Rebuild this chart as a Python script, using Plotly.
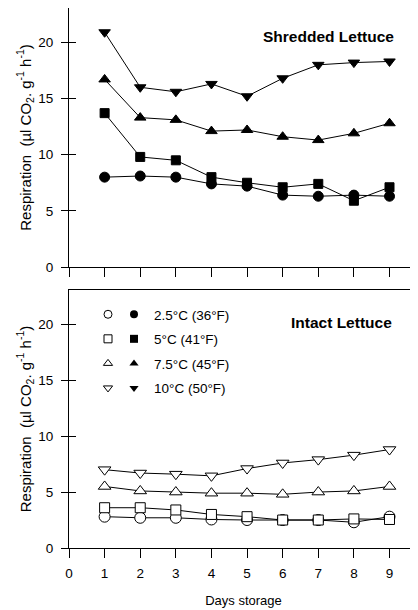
import plotly.graph_objects as go

days = [1, 2, 3, 4, 5, 6, 7, 8, 9]
temps = ["2.5°C (36°F)", "5°C (41°F)", "7.5°C (45°F)", "10°C (50°F)"]
symbols = ["circle", "square", "triangle-up", "triangle-down"]

shredded_25 = [8.0, 8.1, 8.0, 7.4, 7.2, 6.4, 6.3, 6.4, 6.3]
shredded_5 = [13.7, 9.8, 9.5, 8.0, 7.5, 7.1, 7.4, 5.9, 7.1]
shredded_75 = [16.7, 13.3, 13.1, 12.1, 12.2, 11.6, 11.3, 11.9, 12.8]
shredded_10 = [20.9, 16.0, 15.6, 16.3, 15.2, 16.8, 18.0, 18.2, 18.3]

intact_25 = [2.8, 2.7, 2.7, 2.55, 2.5, 2.5, 2.5, 2.3, 2.8]
intact_5 = [3.6, 3.6, 3.4, 3.0, 2.8, 2.5, 2.5, 2.6, 2.55]
intact_75 = [5.5, 5.1, 5.0, 4.9, 4.9, 4.8, 5.0, 5.1, 5.5]
intact_10 = [7.0, 6.7, 6.6, 6.45, 7.1, 7.6, 7.9, 8.3, 8.8]

shredded = [shredded_25, shredded_5, shredded_75, shredded_10]
intact = [intact_25, intact_5, intact_75, intact_10]

x_ticks = [0, 1, 2, 3, 4, 5, 6, 7, 8, 9]
y_ticks = [0, 5, 10, 15, 20]

FONT = "Arial, Liberation Sans, sans-serif"
OFF = 8  # page body margin
W, H = 418 - OFF, 610 - OFF
# plot area in page pixel coordinates
PL, PR, PT, PB = 69, 418, 8, 548
ML, MR, MT, MB = PL - OFF, 0, PT - OFF, 610 - PB
XR = [0, 9.8]
YR = [0, 23.06]

plot_w = PR - PL
plot_h = PB - PT


def px(xp):
    return (xp - PL) / plot_w


def py(yp):
    return 1 - (yp - PT) / plot_h


fig = go.Figure()

# data traces
for i in range(4):
    fig.add_trace(go.Scatter(x=days, y=shredded[i], mode="lines+markers",
                             line=dict(color="black", width=1),
                             marker=dict(symbol=symbols[i], size=10 if i != 1 else 9, color="black",
                                         line=dict(color="black", width=1)),
                             xaxis="x", yaxis="y", showlegend=False))
for i in range(4):
    fig.add_trace(go.Scatter(x=days, y=intact[i], mode="lines+markers",
                             line=dict(color="black", width=1),
                             marker=dict(symbol=symbols[i], size=11 if i != 1 else 10, color="white",
                                         line=dict(color="black", width=1)),
                             xaxis="x2", yaxis="y2", showlegend=False))

# legend entries (open symbols, then filled with text)
for i in range(4):
    fig.add_trace(go.Scatter(x=[None], y=[None], mode="markers", name="\u00a0",
                             marker=dict(symbol=symbols[i] + "-open", size=8, color="black",
                                         line=dict(width=1)),
                             xaxis="x2", yaxis="y2", legend="legend", legendgroup="o%d" % i))
for i in range(4):
    fig.add_trace(go.Scatter(x=[None], y=[None], mode="markers", name=temps[i],
                             marker=dict(symbol=symbols[i], size=8, color="black"),
                             xaxis="x2", yaxis="y2", legend="legend2", legendgroup="f%d" % i))

top_dom = [py(267), 1]
bot_dom = [0, py(290)]

ytitle = "Respiration  (µl CO<sub>2</sub>. g<sup>-1</sup> h<sup>-1</sup>)"

common_x = dict(range=XR, tickvals=x_ticks, ticks="outside", ticklen=9, tickcolor="black",
                showline=True, linecolor="black", linewidth=1, mirror=True, automargin=False,
                showgrid=False, zeroline=False, fixedrange=True)
common_y = dict(range=YR, tickvals=y_ticks, ticks="outside", ticklen=7, tickcolor="black",
                showline=True, linecolor="black", linewidth=1, showgrid=False, zeroline=False,
                automargin=False, tickfont=dict(size=13.5), ticklabelstandoff=5)
overlay_y = dict(range=YR, tickvals=y_ticks, tickcolor="black", showticklabels=False,
                 showline=False, showgrid=False, zeroline=False)

fig.update_layout(
    width=W, height=H,
    margin=dict(l=ML, r=MR, t=MT, b=MB, pad=0),
    paper_bgcolor="white", plot_bgcolor="white",
    font=dict(family=FONT, color="black", size=12),
    xaxis=dict(**common_x, domain=[0, 1], anchor="y", showticklabels=False),
    yaxis=dict(**common_y, domain=top_dom, anchor="x",
               title=dict(text=ytitle, font=dict(size=15), standoff=3)),
    xaxis2=dict(**common_x, domain=[0, 1], anchor="y2", showticklabels=True,
                tickfont=dict(size=13.5), ticklabelstandoff=4,
                title=dict(text="Days storage", font=dict(size=13), standoff=15)),
    yaxis2=dict(**common_y, domain=bot_dom, anchor="x2",
                title=dict(text=ytitle, font=dict(size=15), standoff=3)),
    # inner halves of crossing ticks (left) and right-side ticks
    yaxis3=dict(**overlay_y, ticks="inside", ticklen=7, overlaying="y", side="left", anchor="x"),
    yaxis4=dict(**overlay_y, ticks="inside", ticklen=4, overlaying="y", side="right", anchor="x"),
    yaxis5=dict(**overlay_y, ticks="inside", ticklen=7, overlaying="y2", side="left", anchor="x2"),
    yaxis6=dict(**overlay_y, ticks="inside", ticklen=4, overlaying="y2", side="right", anchor="x2"),
    legend=dict(x=px(88), y=py(299), xanchor="left", yanchor="top",
                bgcolor="rgba(0,0,0,0)", font=dict(size=13.5), tracegroupgap=4,
                traceorder="grouped", itemwidth=30),
    legend2=dict(x=px(114), y=py(299), xanchor="left", yanchor="top",
                 bgcolor="rgba(0,0,0,0)", font=dict(size=13.5), tracegroupgap=4,
                 traceorder="grouped", itemwidth=30),
    annotations=[
        dict(text="<b>Shredded Lettuce</b>", xref="paper", yref="paper",
             x=px(396), y=py(37), xanchor="right", yanchor="middle",
             showarrow=False, font=dict(size=15.5)),
        dict(text="<b>Intact Lettuce</b>", xref="paper", yref="paper",
             x=px(394), y=py(322), xanchor="right", yanchor="middle",
             showarrow=False, font=dict(size=15.5)),
    ],
)

# dummy traces to activate overlay axes
for ya, xa in [("y3", "x"), ("y4", "x"), ("y5", "x2"), ("y6", "x2")]:
    fig.add_trace(go.Scatter(x=[None], y=[None], xaxis=xa, yaxis=ya, showlegend=False,
                             hoverinfo="skip"))

fig.write_html("out.html")
